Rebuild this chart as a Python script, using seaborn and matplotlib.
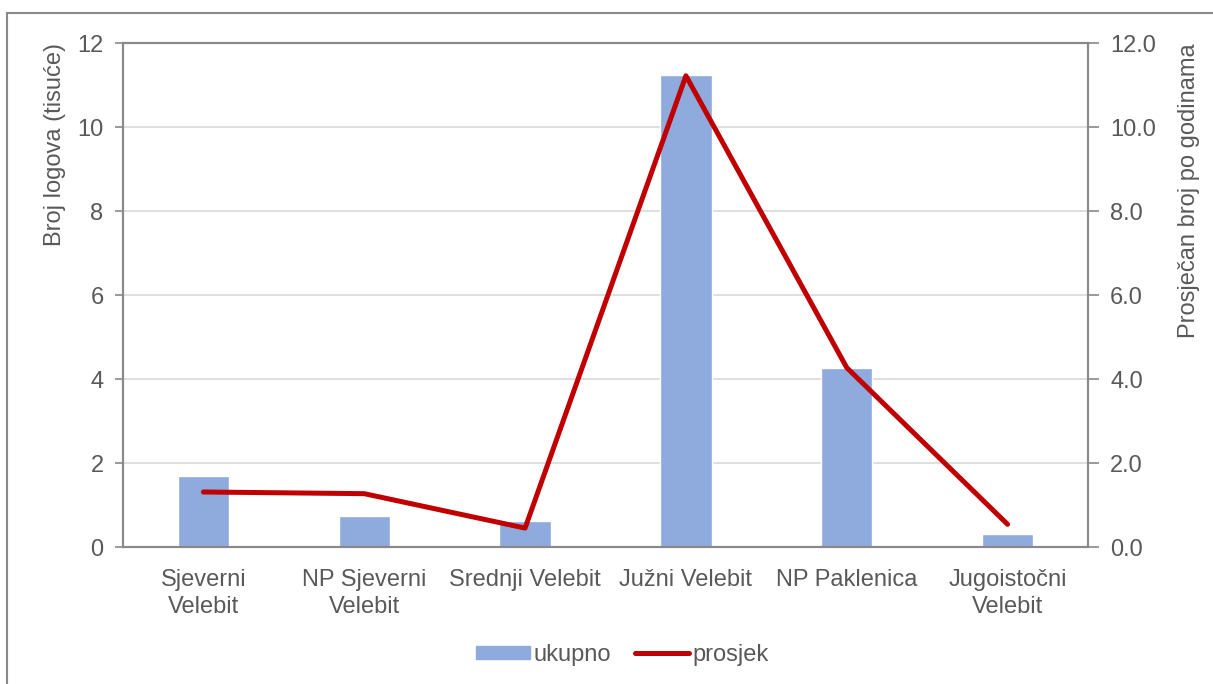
import matplotlib
matplotlib.use('Agg')
import matplotlib.pyplot as plt
import seaborn as sns
import pandas as pd
from matplotlib.patches import Patch
from matplotlib.lines import Line2D

# podaci
regije = ['Sjeverni\nVelebit', 'NP Sjeverni\nVelebit', 'Srednji Velebit',
          'Južni Velebit', 'NP Paklenica', 'Jugoistočni\nVelebit']
ukupno = [1.68, 0.74, 0.61, 11.24, 4.27, 0.30]
prosjek = [1.31, 1.27, 0.45, 11.22, 4.27, 0.54]
lijevi_ticks = [0, 2, 4, 6, 8, 10, 12]
desni_ticks = [0.0, 2.0, 4.0, 6.0, 8.0, 10.0, 12.0]

sns.set_theme(style='white')
plt.rcParams['font.family'] = ['Liberation Sans', 'DejaVu Sans']

siva = '#595959'
linija = '#898989'
fs = 17
df = pd.DataFrame({'regija': regije, 'ukupno': ukupno, 'prosjek': prosjek})

fig = plt.figure(figsize=(12.13, 6.84), dpi=100)
ax = fig.add_axes([123 / 1213, 1 - 547 / 684, (1088 - 123) / 1213, (547 - 43) / 684])

sns.barplot(data=df, x='regija', y='ukupno', color='#8FAADC', width=0.32,
            saturation=1, ax=ax, zorder=2)
ax.set_ylim(0, 12)
ax.set_yticks(lijevi_ticks)
ax.set_yticklabels([str(t) for t in lijevi_ticks])
ax.set_xlim(-0.5, 5.5)
ax.yaxis.grid(True, color='#D9D9D9', lw=1.2, zorder=0)
ax.set_axisbelow(True)
ax.set_xlabel('')
ax.set_ylabel('Broj logova (tisuće)', fontsize=fs, color=siva, loc='top')
ax.yaxis.set_label_coords(-57 / 965, 1.0)
ax.tick_params(axis='y', left=True, length=6, width=1.2, color=linija,
               labelsize=fs, labelcolor=siva, pad=8)
ax.tick_params(axis='x', bottom=False, labelsize=fs, labelcolor=siva, pad=10)
for lab in ax.get_xticklabels():
    lab.set_linespacing(1.3)
for s in ax.spines.values():
    s.set_color(linija)
    s.set_linewidth(1.5)

ax2 = ax.twinx()
sns.lineplot(data=df, x='regija', y='prosjek', color='#C00000', lw=3.6,
             solid_capstyle='round', solid_joinstyle='round', ax=ax2, zorder=3, sort=False)
ax2.set_ylim(0, 12)
ax2.set_yticks(desni_ticks)
ax2.set_yticklabels([f'{t:.1f}' for t in desni_ticks])
ax2.set_ylabel('Prosječan broj po godinama', fontsize=fs, color=siva, loc='top')
ax2.yaxis.set_label_coords(1 + 90 / 965, 1.0)
ax2.tick_params(axis='y', right=True, length=8, width=1.2, color=linija,
                labelsize=fs, labelcolor=siva, pad=8)
ax2.grid(False)
for s in ax2.spines.values():
    s.set_color(linija)
    s.set_linewidth(1.5)

# legenda
handles = [Patch(color='#8FAADC', label='ukupno'),
           Line2D([0], [0], color='#C00000', lw=3.6, solid_capstyle='round', label='prosjek')]
fig.legend(handles=handles, loc='center', bbox_to_anchor=(0.513, 1 - 655 / 684), ncol=2,
           frameon=False, fontsize=fs, labelcolor=siva, handlelength=2.3,
           handleheight=0.5, handletextpad=0.15, columnspacing=1.0)

# okvir grafikona (vidljivi samo gornji i lijevi rub)
fig.add_artist(Line2D([7 / 1213, 7 / 1213], [0, 1 - 13 / 684], color=linija, lw=1.5))
fig.add_artist(Line2D([7 / 1213, 1], [1 - 13 / 684, 1 - 13 / 684], color=linija, lw=1.5))

fig.savefig('out.png', dpi=100)
